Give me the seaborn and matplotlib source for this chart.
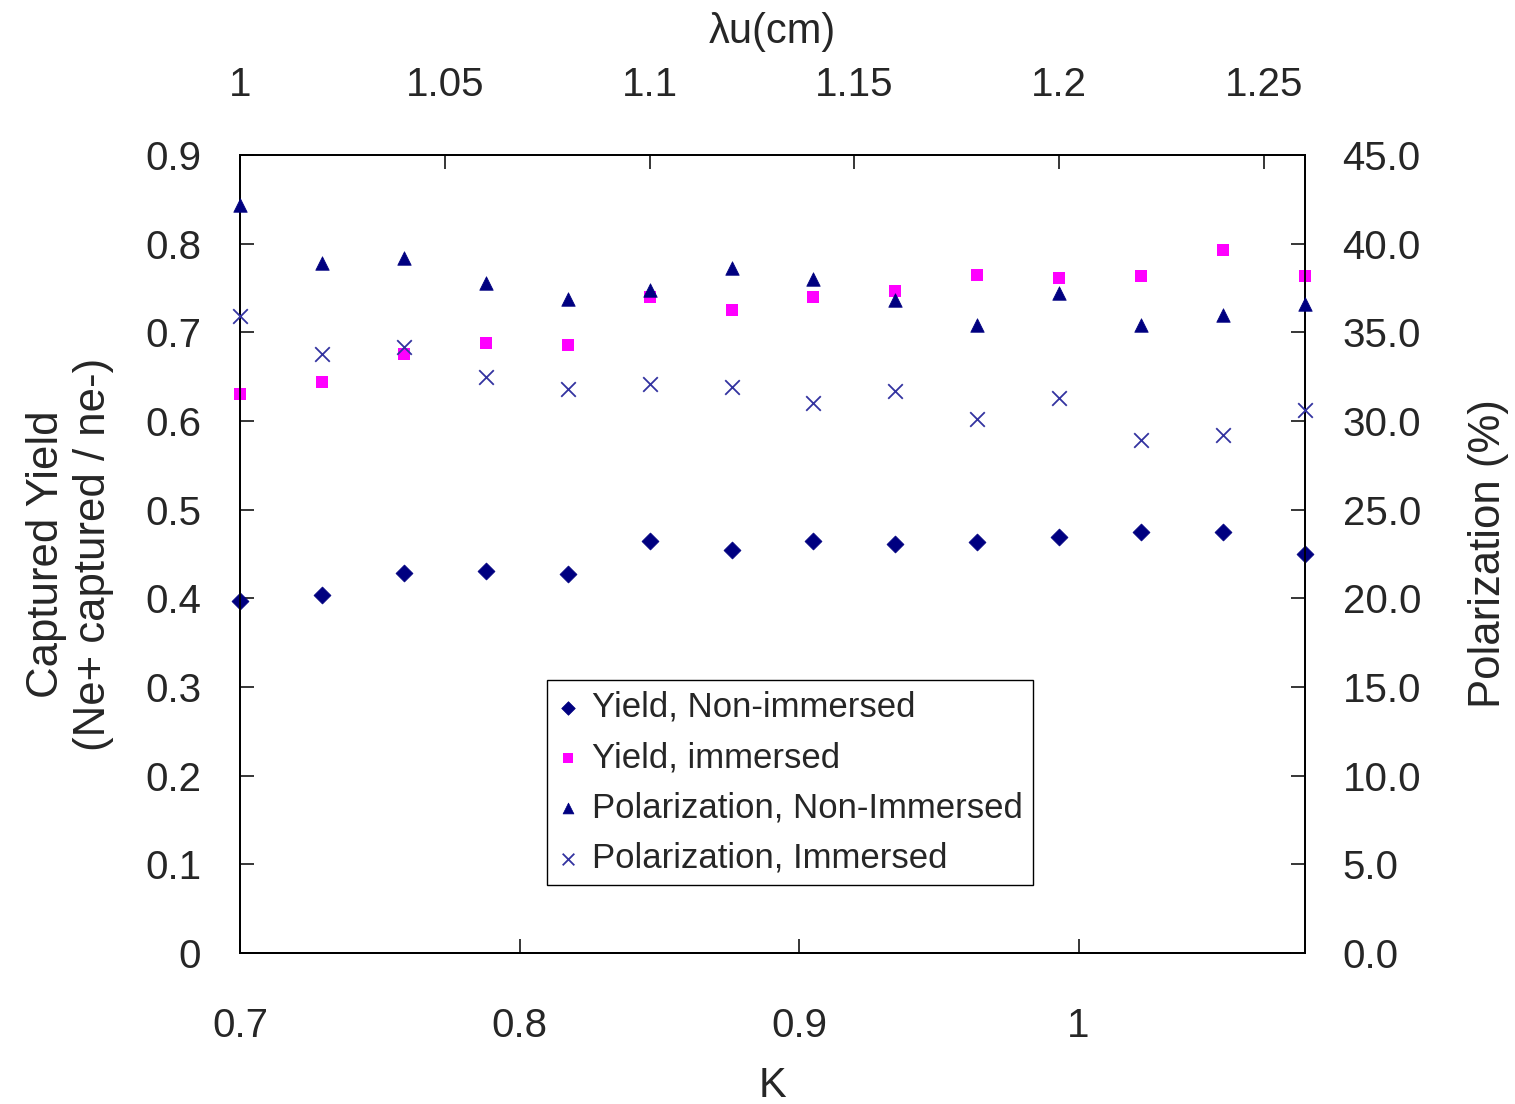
import matplotlib
matplotlib.use("Agg")
import matplotlib.pyplot as plt
import matplotlib.ticker as ticker
import seaborn as sns

# undulator period (top axis) and measured values
lam_u = [1.00, 1.02, 1.04, 1.06, 1.08, 1.10, 1.12, 1.14, 1.16, 1.18, 1.20, 1.22, 1.24, 1.26]
yield_non_immersed = [0.397, 0.404, 0.429, 0.431, 0.427, 0.465, 0.454, 0.465, 0.461,
                      0.463, 0.469, 0.475, 0.475, 0.450]
yield_immersed = [0.631, 0.644, 0.675, 0.688, 0.686, 0.740, 0.725, 0.740, 0.747,
                  0.765, 0.761, 0.763, 0.793, 0.763]
pol_non_immersed = [42.2, 38.9, 39.2, 37.8, 36.9, 37.4, 38.6, 38.0, 36.8, 35.4,
                    37.2, 35.4, 36.0, 36.6]
pol_immersed = [35.9, 33.8, 34.2, 32.5, 31.8, 32.1, 31.9, 31.0, 31.7, 30.1,
                31.3, 28.9, 29.2, 30.6]

lam_ticks = [1.0, 1.05, 1.1, 1.15, 1.2, 1.25]
k_ticks = [0.7, 0.8, 0.9, 1.0]
yield_ticks = [0.0, 0.1, 0.2, 0.3, 0.4, 0.5, 0.6, 0.7, 0.8, 0.9]
pol_ticks = [0, 5, 10, 15, 20, 25, 30, 35, 40, 45]

# K axis range matching the lambda_u range
LAM_RANGE = (1.0, 1.26)
K_RANGE = (0.7, 1.081)


def lam_to_k(x):
    return K_RANGE[0] + (x - LAM_RANGE[0]) * (K_RANGE[1] - K_RANGE[0]) / (LAM_RANGE[1] - LAM_RANGE[0])


def k_to_lam(k):
    return LAM_RANGE[0] + (k - K_RANGE[0]) * (LAM_RANGE[1] - LAM_RANGE[0]) / (K_RANGE[1] - K_RANGE[0])


sns.set_style("ticks")
plt.rcParams["font.family"] = ["Liberation Sans", "DejaVu Sans"]
plt.rcParams["axes.linewidth"] = 1.3

navy = "#000080"
magenta = "#FF00FF"
xblue = "#3333A0"

fig, ax = plt.subplots(figsize=(15.15, 11.04), dpi=100)
fig.subplots_adjust(left=0.1584, right=0.8614, top=0.8596, bottom=0.1368)
ax2 = ax.twinx()

sns.scatterplot(x=lam_u, y=yield_non_immersed, ax=ax, marker="D", s=75,
                color=navy, edgecolor=navy, linewidth=0.5, label="Yield, Non-immersed",
                clip_on=False, zorder=3)
sns.scatterplot(x=lam_u, y=yield_immersed, ax=ax, marker="s", s=80,
                color=magenta, edgecolor=magenta, linewidth=0, label="Yield, immersed",
                clip_on=False, zorder=3)
sns.scatterplot(x=lam_u, y=pol_non_immersed, ax=ax2, marker="^", s=95,
                color=navy, edgecolor=navy, linewidth=0.5, label="Polarization, Non-Immersed",
                clip_on=False, zorder=3)
sns.scatterplot(x=lam_u, y=pol_immersed, ax=ax2, marker="x", s=110,
                color=xblue, linewidth=1.3, label="Polarization, Immersed",
                clip_on=False, zorder=3)

ax.set_xlim(*LAM_RANGE)
ax.set_ylim(0, 0.9)
ax2.set_ylim(0, 45)

# top axis: lambda_u
ax.xaxis.tick_top()
ax.xaxis.set_label_position("top")
ax.set_xticks(lam_ticks)
ax.xaxis.set_major_formatter(ticker.FormatStrFormatter("%g"))
ax.set_xlabel("λu(cm)", fontsize=30, labelpad=16)

# bottom axis: K
ax_k = ax.secondary_xaxis("bottom", functions=(lam_to_k, k_to_lam))
ax_k.set_xticks(k_ticks)
ax_k.xaxis.set_major_formatter(ticker.FormatStrFormatter("%g"))
ax_k.set_xlabel("K", fontsize=30, labelpad=15)
ax_k.tick_params(axis="x", direction="in", length=10, width=1.3, labelsize=29, pad=39)
ax_k.spines["bottom"].set_linewidth(1.3)

ax.set_yticks(yield_ticks)
ax.yaxis.set_major_formatter(ticker.FormatStrFormatter("%g"))
ax.set_ylabel("Captured Yield\n(Ne+ captured / ne-)", fontsize=31.5, labelpad=22)

ax2.set_yticks(pol_ticks)
ax2.yaxis.set_major_formatter(ticker.FormatStrFormatter("%.1f"))
ax2.set_ylabel("Polarization (%)", fontsize=31.5, labelpad=34)

ax.tick_params(axis="x", direction="in", length=10, width=1.3, labelsize=29, pad=37,
               top=True, bottom=False)
ax.tick_params(axis="y", direction="in", length=10, width=1.3, labelsize=29, pad=28)
ax2.tick_params(axis="y", direction="in", length=10, width=1.3, labelsize=29, pad=27)
ax2.tick_params(axis="x", top=False, bottom=False, labeltop=False, labelbottom=False)

for spine in list(ax.spines.values()) + list(ax2.spines.values()):
    spine.set_color("black")
    spine.set_linewidth(1.3)

h1, l1 = ax.get_legend_handles_labels()
h2, l2 = ax2.get_legend_handles_labels()
if ax.get_legend() is not None:
    ax.get_legend().remove()
leg = ax2.legend(h1 + h2, l1 + l2, loc="lower left", bbox_to_anchor=(0.288, 0.085),
                 borderaxespad=0, fontsize=25, frameon=True, fancybox=False,
                 framealpha=1, edgecolor="black", handlelength=0.6, handletextpad=0.4,
                 labelspacing=0.5, borderpad=0.3, markerscale=0.8)
leg.get_frame().set_linewidth(1.0)

plt.savefig("out.png", dpi=100)
plt.close(fig)
